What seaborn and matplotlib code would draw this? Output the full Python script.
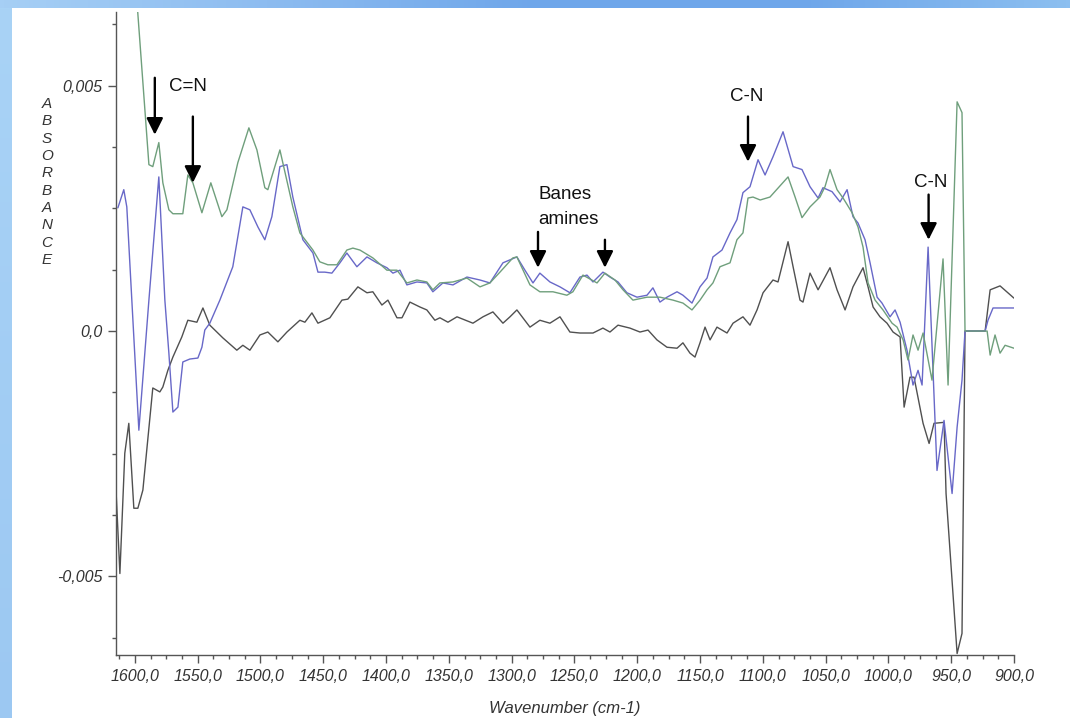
import numpy as np
import pandas as pd
import matplotlib
matplotlib.use("Agg")
import matplotlib.pyplot as plt
from matplotlib.colors import LinearSegmentedColormap
from matplotlib.ticker import MultipleLocator, FuncFormatter
import seaborn as sns

# --- IR difference spectra (wavenumber in cm-1, absorbance in units of 1e-3) ---
green_wn = [1602.0, 1588.8, 1585.7, 1580.9, 1577.7, 1572.9, 1569.7, 1561.8, 1557.8, 1553.8,
            1546.6, 1539.5, 1530.7, 1526.7, 1518.0, 1509.2, 1502.8, 1496.5, 1494.1, 1484.5,
            1474.2, 1468.6, 1458.2, 1452.7, 1446.3, 1439.1, 1431.2, 1426.4, 1420.8, 1410.5,
            1399.3, 1391.3, 1383.4, 1375.4, 1367.5, 1362.7, 1357.1, 1346.7, 1335.6, 1325.2,
            1317.3, 1309.3, 1299.0, 1295.8, 1285.4, 1277.5, 1267.1, 1256.0, 1251.2, 1243.2,
            1232.0, 1225.7, 1217.7, 1211.3, 1203.4, 1192.2, 1181.9, 1171.5, 1163.6, 1156.4,
            1150.0, 1144.4, 1139.7, 1134.1, 1126.1, 1120.6, 1115.8, 1111.8, 1107.8, 1102.1,
            1094.3, 1079.9, 1074.3, 1068.8, 1062.4, 1054.5, 1050.5, 1046.5, 1040.9, 1036.1,
            1028.9, 1024.2, 1020.2, 1016.2, 1010.6, 1004.3, 997.1, 993.1, 988.3, 984.4,
            980.4, 976.4, 972.4, 965.3, 956.5, 952.5, 945.3, 941.4, 939.0, 921.4,
            919.0, 915.1, 911.1, 907.1, 900.0]
green_abs = [8.00, 3.39, 3.35, 3.84, 3.02, 2.47, 2.39, 2.39, 3.18, 3.02,
             2.41, 3.02, 2.33, 2.47, 3.43, 4.14, 3.69, 2.92, 2.88, 3.69,
             2.53, 2.00, 1.65, 1.41, 1.35, 1.35, 1.65, 1.69, 1.65, 1.49,
             1.24, 1.24, 0.98, 1.04, 1.00, 0.84, 0.98, 1.00, 1.08, 0.90,
             0.98, 1.20, 1.49, 1.51, 0.94, 0.80, 0.80, 0.73, 0.80, 1.14,
             0.98, 1.18, 1.04, 0.84, 0.63, 0.69, 0.69, 0.63, 0.57, 0.43,
             0.63, 0.84, 0.98, 1.31, 1.39, 1.86, 2.00, 2.71, 2.73, 2.67,
             2.73, 3.14, 2.73, 2.31, 2.53, 2.73, 2.94, 3.29, 2.88, 2.71,
             2.41, 2.12, 1.71, 0.98, 0.63, 0.43, 0.16, 0.08, -0.18, -0.59,
             -0.08, -0.39, -0.04, -1.00, 1.47, -1.10, 4.67, 4.45, 0.00, 0.00,
             -0.49, -0.08, -0.45, -0.29, -0.35]

blue_wn = [1613.5, 1608.8, 1606.4, 1602.4, 1596.8, 1588.8, 1580.9, 1576.1, 1572.9, 1569.7,
           1565.7, 1561.8, 1556.2, 1549.8, 1546.6, 1544.3, 1540.3, 1532.3, 1522.0, 1514.0,
           1508.4, 1502.0, 1496.5, 1490.9, 1484.5, 1478.9, 1474.2, 1466.2, 1458.2, 1454.2,
           1448.7, 1443.1, 1436.7, 1431.2, 1423.2, 1415.2, 1407.3, 1399.3, 1394.5, 1388.9,
           1383.4, 1375.4, 1367.5, 1362.7, 1354.7, 1346.7, 1335.6, 1325.2, 1317.3, 1306.9,
           1295.8, 1289.4, 1283.0, 1277.5, 1269.5, 1261.5, 1253.6, 1245.6, 1240.0, 1235.2,
           1227.3, 1221.7, 1215.3, 1208.2, 1200.2, 1192.2, 1187.5, 1181.9, 1176.3, 1168.3,
           1163.6, 1156.4, 1150.0, 1144.4, 1139.7, 1132.5, 1126.1, 1120.6, 1115.8, 1110.2,
           1103.8, 1098.2, 1091.9, 1083.9, 1075.9, 1068.8, 1062.4, 1056.0, 1052.1, 1044.9,
           1038.5, 1032.9, 1028.2, 1024.2, 1018.6, 1014.6, 1009.0, 1005.1, 998.7, 994.7,
           990.7, 985.2, 980.4, 976.4, 973.2, 968.4, 961.3, 955.7, 949.3, 945.3,
           941.4, 939.0, 923.0, 920.7, 916.7, 900.0]
blue_abs = [2.51, 2.88, 2.53, 0.63, -2.02, 0.63, 3.14, 0.63, -0.45, -1.65,
            -1.55, -0.63, -0.57, -0.55, -0.33, 0.02, 0.16, 0.63, 1.31, 2.53,
            2.47, 2.12, 1.86, 2.33, 3.35, 3.39, 2.73, 1.86, 1.59, 1.20,
            1.20, 1.18, 1.39, 1.59, 1.31, 1.51, 1.39, 1.29, 1.18, 1.24,
            0.94, 1.00, 0.98, 0.80, 0.98, 0.94, 1.10, 1.04, 0.98, 1.39,
            1.51, 1.24, 0.98, 1.18, 1.00, 0.90, 0.78, 1.10, 1.14, 1.00,
            1.20, 1.10, 1.00, 0.78, 0.69, 0.73, 0.88, 0.59, 0.69, 0.80,
            0.73, 0.57, 0.90, 1.08, 1.51, 1.65, 2.00, 2.27, 2.82, 2.94,
            3.49, 3.18, 3.55, 4.06, 3.35, 3.29, 2.94, 2.71, 2.92, 2.84,
            2.63, 2.88, 2.33, 2.20, 1.86, 1.39, 0.69, 0.57, 0.29, 0.43,
            0.18, -0.39, -1.10, -0.80, -1.10, 1.71, -2.84, -1.82, -3.31, -1.96,
            -1.00, 0.00, 0.00, 0.22, 0.47, 0.47]

gray_wn = [1615.1, 1611.9, 1608.0, 1604.8, 1600.8, 1597.6, 1593.6, 1585.7, 1580.1, 1577.7,
           1573.7, 1569.7, 1562.6, 1557.8, 1550.6, 1545.8, 1540.3, 1529.9, 1518.8, 1514.0,
           1508.4, 1500.4, 1494.1, 1486.1, 1478.9, 1468.6, 1464.6, 1459.0, 1454.2, 1444.7,
           1435.1, 1430.4, 1422.4, 1415.2, 1410.5, 1403.3, 1398.5, 1391.3, 1387.3, 1381.0,
           1373.0, 1367.5, 1361.1, 1357.1, 1350.7, 1343.5, 1330.8, 1322.8, 1314.9, 1306.9,
           1301.3, 1295.8, 1285.4, 1277.5, 1269.5, 1261.5, 1253.6, 1245.6, 1235.2, 1227.3,
           1221.7, 1215.3, 1205.8, 1197.8, 1191.4, 1184.3, 1176.3, 1168.3, 1163.6, 1158.0,
           1154.0, 1150.0, 1146.0, 1142.0, 1136.5, 1128.5, 1123.7, 1115.8, 1110.2, 1104.6,
           1099.8, 1091.9, 1087.9, 1079.9, 1075.9, 1070.4, 1068.0, 1062.4, 1056.0, 1046.5,
           1040.9, 1034.5, 1028.2, 1020.2, 1016.2, 1012.2, 1006.7, 1001.1, 996.3, 990.7,
           987.5, 982.8, 979.6, 972.4, 967.6, 963.7, 955.7, 954.1, 945.3, 941.4,
           939.0, 923.0, 919.0, 911.1, 900.0]
gray_abs = [-3.18, -4.94, -2.49, -1.88, -3.61, -3.61, -3.24, -1.16, -1.24, -1.14,
            -0.80, -0.53, -0.12, 0.22, 0.18, 0.47, 0.12, -0.14, -0.39, -0.29,
            -0.39, -0.08, -0.02, -0.22, -0.02, 0.22, 0.18, 0.37, 0.16, 0.27,
            0.63, 0.65, 0.90, 0.78, 0.80, 0.53, 0.63, 0.27, 0.27, 0.59,
            0.49, 0.43, 0.22, 0.27, 0.18, 0.29, 0.16, 0.29, 0.39, 0.16,
            0.29, 0.43, 0.08, 0.22, 0.16, 0.29, -0.02, -0.04, -0.04, 0.06,
            -0.02, 0.12, 0.06, -0.02, 0.02, -0.18, -0.33, -0.35, -0.24, -0.45,
            -0.53, -0.24, 0.08, -0.18, 0.08, -0.04, 0.16, 0.29, 0.12, 0.43,
            0.78, 1.04, 1.00, 1.82, 1.31, 0.63, 0.59, 1.18, 0.84, 1.29,
            0.84, 0.43, 0.90, 1.29, 0.90, 0.49, 0.29, 0.16, -0.02, -0.12,
            -1.55, -0.94, -0.94, -1.88, -2.29, -1.88, -1.86, -3.31, -6.57, -6.16,
            0.00, 0.00, 0.84, 0.92, 0.67]

# drawing order: bottom to top
series_names = ["gray", "blue", "green"]
series_colors = {"green": "#6f9f7c", "blue": "#6868c8", "gray": "#505050"}

frames = []
for name, wn, ab in [("green", green_wn, green_abs), ("blue", blue_wn, blue_abs), ("gray", gray_wn, gray_abs)]:
    frames.append(pd.DataFrame({"wavenumber": wn, "absorbance": np.array(ab) * 1e-3, "sample": name}))
spectra = pd.concat(frames, ignore_index=True)

sns.set_style("white")
plt.rcParams["font.family"] = ["Liberation Sans", "DejaVu Sans"]

W, H = 1070, 718
fig = plt.figure(figsize=(W / 100, H / 100), dpi=100)
fig.patch.set_facecolor("white")

# blue gradient frame along the top and left edges
top_cmap = LinearSegmentedColormap.from_list(
    "top", ["#a6cff5", "#8dbcf0", "#6ea6ea", "#6ea6ea", "#8cbff0"])
left_cmap = LinearSegmentedColormap.from_list("left", ["#9cc8f2", "#a9d3f6"])
ax_top = fig.add_axes([0, 1 - 8 / H, 1, 8 / H])
ax_top.imshow(np.linspace(0, 1, 256)[None, :], aspect="auto", cmap=top_cmap, extent=[0, 1, 0, 1])
ax_top.set_axis_off()
ax_left = fig.add_axes([0, 0, 12 / W, 1 - 8 / H])
ax_left.imshow(np.linspace(1, 0, 256)[:, None], aspect="auto", cmap=left_cmap, extent=[0, 1, 0, 1])
ax_left.set_axis_off()

ax = fig.add_axes([116 / W, 1 - 655 / H, (1014 - 116) / W, (655 - 12) / H])
ax.set_facecolor("white")

for name in series_names:
    sub = spectra[spectra["sample"] == name]
    sns.lineplot(data=sub, x="wavenumber", y="absorbance", sort=False, estimator=None,
                 color=series_colors[name], linewidth=1.0, ax=ax, legend=False)

ax.set_xlim(1615, 900)
ax.set_ylim(-0.0066, 0.0065)

for side in ["top", "right"]:
    ax.spines[side].set_visible(False)
for side in ["left", "bottom"]:
    ax.spines[side].set_color("#555555")
    ax.spines[side].set_linewidth(1.0)

ax.xaxis.set_major_locator(MultipleLocator(50))
ax.xaxis.set_minor_locator(MultipleLocator(12.5))
ax.yaxis.set_major_locator(MultipleLocator(0.005))
ax.yaxis.set_minor_locator(MultipleLocator(0.00125))
ax.xaxis.set_major_formatter(FuncFormatter(lambda v, p: f"{v:.1f}".replace(".", ",")))


def yfmt(v, p):
    if abs(v) < 1e-9:
        return "0,0"
    return f"{v:.3f}".replace(".", ",")


ax.yaxis.set_major_formatter(FuncFormatter(yfmt))
ax.tick_params(axis="both", which="major", direction="out", length=6, width=1, color="#555555",
               labelsize=11.5, labelcolor="#333333", pad=4, bottom=True, left=True)
ax.tick_params(axis="both", which="minor", direction="out", length=3, width=1, color="#555555",
               bottom=True, left=True)
for lab in ax.get_xticklabels() + ax.get_yticklabels():
    lab.set_fontstyle("italic")

ax.set_xlabel("")
ax.set_ylabel("")
fig.text(565 / W, 1 - 708 / H, "Wavenumber (cm-1)", ha="center", va="center",
         fontsize=12, fontstyle="italic", color="#333333")
fig.text(47 / W, 1 - 182 / H, "\n".join("ABSORBANCE"), ha="center", va="center",
         fontsize=11, fontstyle="italic", color="#333333", linespacing=1.3)

# band assignments
arrow_kw = dict(arrowstyle="-|>,head_width=0.5,head_length=1.0", color="black", lw=1.7,
                shrinkA=0, shrinkB=0)
arrows = [(1584.1, 0.00516, 0.00400), (1553.8, 0.00437, 0.00302),
          (1279.0, 0.00202, 0.00129), (1225.7, 0.00186, 0.00129),
          (1111.8, 0.00437, 0.00345), (968.0, 0.00278, 0.00186)]
for x, y0, y1 in arrows:
    ax.annotate("", xy=(x, y1), xytext=(x, y0), arrowprops=arrow_kw, annotation_clip=False)

label_kw = dict(ha="center", va="center", fontsize=13.5, color="#111111")
ax.text(1557.8, 0.00498, "C=N", **label_kw)
ax.text(1278.5, 0.00278, "Banes", ha="left", va="center", fontsize=13.5, color="#111111")
ax.text(1278.5, 0.00227, "amines", ha="left", va="center", fontsize=13.5, color="#111111")
ax.text(1112.6, 0.00478, "C-N", **label_kw)
ax.text(966.4, 0.00302, "C-N", **label_kw)

fig.savefig("out.png", dpi=100, facecolor=fig.get_facecolor())
